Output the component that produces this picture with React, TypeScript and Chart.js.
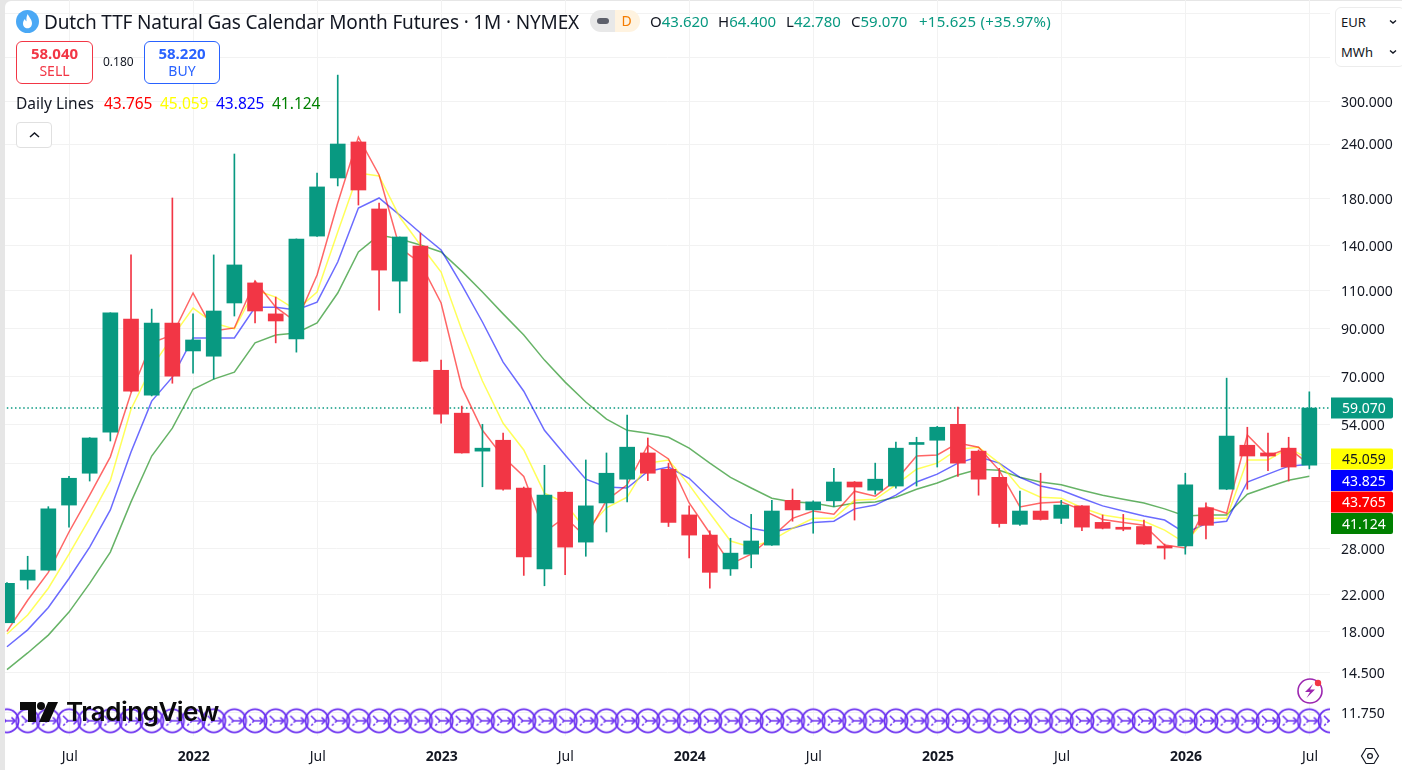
import React, { useEffect, useRef } from "react";
import { Chart, registerables } from "chart.js";

Chart.register(...registerables);

const months = [
  "Apr 2021","May 2021","Jun 2021","Jul 2021","Aug 2021","Sep 2021","Oct 2021","Nov 2021","Dec 2021",
  "Jan 2022","Feb 2022","Mar 2022","Apr 2022","May 2022","Jun 2022","Jul 2022","Aug 2022","Sep 2022","Oct 2022","Nov 2022","Dec 2022",
  "Jan 2023","Feb 2023","Mar 2023","Apr 2023","May 2023","Jun 2023","Jul 2023","Aug 2023","Sep 2023","Oct 2023","Nov 2023","Dec 2023",
  "Jan 2024","Feb 2024","Mar 2024","Apr 2024","May 2024","Jun 2024","Jul 2024","Aug 2024","Sep 2024","Oct 2024","Nov 2024","Dec 2024",
  "Jan 2025","Feb 2025","Mar 2025","Apr 2025","May 2025","Jun 2025","Jul 2025","Aug 2025","Sep 2025","Oct 2025","Nov 2025","Dec 2025",
  "Jan 2026","Feb 2026","Mar 2026","Apr 2026","May 2026","Jun 2026","Jul 2026","Aug 2026",
];

const opens = [18.9,23.7,25.0,35.3,41.8,52.0,94.8,63.3,92.8,80.0,77.8,103.2,114.8,97.4,85.3,147.2,200.4,242.6,170,115.9,139.6,72.2,57.5,47.0,49.8,38.65,25.15,37.8,29.0,35.7,40.5,46.55,42.7,33.5,30.1,25.15,27.2,28.54,36.2,34.4,36.1,39.9,38.2,39.05,48.7,49.8,54.2,47.0,40.9,31.87,34.2,32.9,35.15,32.2,31.2,31.5,28.24,28.4,34.8,38.4,48.5,46.55,47.75,43.62];
const highs = [23.4,26.9,35.0,41.1,50.5,98,133.2,99.9,180.2,97.4,133.2,227.6,115.9,106.5,145,205.8,346,243,175.5,146.5,149.6,76.2,59.7,54.2,51.7,38.85,43.6,37.9,44.85,46.55,56.9,50.4,44.1,35.15,30.8,29.6,33.6,36.2,38.44,36.1,42.9,40,44.1,49.3,50.6,53.6,59.4,47.3,42.9,38.0,41.8,36.2,35.2,33.5,33.6,32.6,28.7,41.8,35.7,69.25,53.36,51.7,50.6,64.4];
const lows = [18.9,22.6,25.0,31.4,40.1,49.6,64.4,63.0,67.4,71.1,68.9,96.3,92.8,83.5,79.5,147,192.1,173.6,99.4,97.9,75.6,54.5,46.5,38.9,38.2,24.3,23.0,24.4,26.9,30.6,35.9,40.2,31.5,26.65,22.7,24.3,25.3,28.5,32.4,30.4,35.0,32.6,37.4,38.6,39.05,43.2,41.1,37.2,31.4,31.7,32.6,32.0,30.8,31.1,30.8,28.65,26.5,27.2,29.5,38.3,38.4,42.4,40.1,42.78];
const closes = [23.3,25.0,34.6,40.7,50.4,97.9,64.6,92.8,70.0,84.8,98.9,126.3,98.9,93.8,144.9,191.1,240,188,122.9,146.5,75.8,57.2,46.55,47.75,38.4,26.8,37.2,28.24,35.15,41.8,48.0,41.8,32.2,30.1,24.7,27.35,29.17,34.2,34.4,35.9,39.9,38.85,40.5,47.75,48.85,53.36,44.1,40.5,32.0,34.2,32.7,35.3,31.4,31.2,31.05,28.7,28.1,39.3,31.7,50.9,45.8,45.8,43.2,59.07];

const redLine = [18.05,21.3,24.7,30.6,37.2,45.6,64.0,83.5,87.1,108.8,89,90.4,116,100.9,93.3,119.7,175.5,249,203.6,138.2,127.6,103.2,66.0,52.5,45.6,41.1,30.6,33.1,29.8,36.2,39.3,48.5,45.1,35.7,30.4,25.8,27.2,29.8,32.9,34.2,33.64,38.0,37.0,40.25,45.8,46.05,49.05,48.0,42.45,34.96,35.7,35.9,34.4,32.7,32.2,31.7,28.54,28.1,35.0,33.8,51.2,45.8,47.75,43.765];
const yellowLine = [17.8,19.7,22.7,27.2,32.9,40.25,58.7,73.4,86.2,100.4,92.8,89.9,110.6,106.5,99.4,109.4,150.4,205.8,202.5,162.9,140.4,121.6,89.4,68.2,54.5,47.3,37.6,35.7,30.9,34.8,36.8,44.1,44.85,39.3,33.8,29.17,28.24,29.3,31.2,32.9,32.9,36.2,36.4,39.3,42.7,44.1,47.5,48.0,44.1,38.65,36.8,36.6,34.8,33.5,32.9,32.4,30.9,28.85,32.9,32.9,44.85,44.85,47.75,45.059];
const blueLine = [16.64,18.2,20.5,23.9,28.24,34.4,46.8,61.3,69.6,85.7,85.7,85.7,100.9,100.9,99.4,103.7,128.3,170.9,180.2,164.6,149.6,136.7,113.6,93.3,75.4,64.6,52.5,46.05,40.5,38.85,38.65,42.2,43.2,40.7,36.6,33.1,31.2,30.6,31.2,32.2,32.4,34.6,35.3,37.2,39.9,41.6,44.1,45.6,44.1,40.9,39.05,38.2,36.6,35.15,34.2,33.3,32.6,30.4,32.0,32.4,39.9,41.6,43.4,43.825];
const greenLine = [14.74,16.1,17.7,20.0,23.3,27.5,35.9,45.8,53.1,65.3,68.9,71.5,83.5,87.1,88.0,92.8,108.8,135.3,148.0,145,140.4,135.3,122.2,109.4,97.4,87.1,76.2,67.8,61.0,55.7,52.5,51.7,50.6,47.75,44.1,40.9,38.65,36.6,35.9,35.7,35.0,35.7,35.9,36.8,38.4,39.7,41.4,42.7,42.45,40.9,39.9,39.3,38.2,37.2,36.4,35.7,34.6,33.3,33.5,33.5,37.4,38.85,40.25,41.124];

const yTicks = [480, 380, 300, 240, 180, 140, 110, 90, 70, 54, 44, 36, 28, 22, 18, 14.5, 11.75];
const yUnlabelled = [480, 380, 44, 36];
const xTickMonths = ["Jul 2021","Jan 2022","Jul 2022","Jan 2023","Jul 2023","Jan 2024","Jul 2024","Jan 2025","Jul 2025","Jan 2026","Jul 2026"];
const tagValues = [45.059, 43.825, 43.765, 41.124];
const markerLevel = 11.23;
const legendValues = ["43.765", "45.059", "43.825", "41.124"];
const ohlc = [["O","43.620"],["H","64.400"],["L","42.780"],["C","59.070"]];

const UP = "#089981";
const DOWN = "#F23645";
const FONT = '"Noto Sans", sans-serif';
const TEXT = "#131722";
const lineColors = ["rgba(255,0,0,0.6)","rgba(255,255,0,0.65)","rgba(0,0,255,0.58)","rgba(0,128,0,0.6)"];
const tagStyles = [["#ffff00","#131722"],["#0000ff","#ffffff"],["#ff0000","#ffffff"],["#008000","#ffffff"]];

function makeMarker(): HTMLCanvasElement {
  const c = document.createElement("canvas");
  c.width = 30; c.height = 30;
  const g = c.getContext("2d")!;
  g.strokeStyle = "#6a2ff0";
  g.lineWidth = 1.8;
  g.beginPath(); g.arc(15, 15, 11.6, 0, Math.PI * 2); g.stroke();
  g.lineWidth = 1.6;
  g.beginPath(); g.moveTo(9, 10); g.lineTo(14, 15); g.lineTo(23, 15); g.stroke();
  g.beginPath(); g.moveTo(19.5, 11.5); g.lineTo(23, 15); g.lineTo(19.5, 18.5); g.stroke();
  g.setLineDash([2.5, 1.8]);
  g.beginPath(); g.moveTo(14, 15); g.lineTo(8, 21); g.stroke();
  return c;
}

const tagsPlugin = {
  id: "priceTags",
  afterDraw(chart: any) {
    const { ctx, scales: { y }, chartArea } = chart;
    const x0 = chartArea.right + 1;
    const w = 62;
    const drawTag = (cy: number, h: number, bg: string, fg: string, text: string) => {
      ctx.save();
      ctx.fillStyle = bg;
      ctx.beginPath();
      ctx.roundRect(x0, cy - h / 2, w, h, [0, 2, 2, 0]);
      ctx.fill();
      ctx.fillStyle = fg;
      ctx.font = `14px ${FONT}`;
      ctx.textAlign = "left";
      ctx.textBaseline = "middle";
      ctx.fillText(text, x0 + 11, cy + 1);
      ctx.restore();
    };
    const last = closes[closes.length - 1];
    drawTag(y.getPixelForValue(last), 21, UP, "#ffffff", last.toFixed(3));
    const start = y.getPixelForValue(tagValues[0]);
    tagValues.forEach((v, i) => {
      drawTag(start + i * 21.5, 21, tagStyles[i][0], tagStyles[i][1], v.toFixed(3));
    });
  },
};

function Chevron({ x, y }: { x: number; y: number }) {
  return (
    <svg style={{ position: "absolute", left: x, top: y }} width="10" height="6" viewBox="0 0 10 6">
      <path d="M2 1.5 L5 4 L8 1.5" fill="none" stroke={TEXT} strokeWidth="1.4" />
    </svg>
  );
}

const abs = (left: number, top: number, extra: any = {}) => ({ position: "absolute", left, top, whiteSpace: "nowrap", fontFamily: FONT, ...extra });
const noPadding = (s: any) => { s.paddingTop = 0; s.paddingBottom = 0; s.paddingLeft = 0; s.paddingRight = 0; };

export default function App() {
  const ref = useRef<HTMLCanvasElement>(null);
  useEffect(() => {
    document.body.style.margin = "0";
    const marker = makeMarker();
    const last = closes[closes.length - 1];
    const candleX = closes.map((_, i) => i);
    const lines = [redLine, yellowLine, blueLine, greenLine].map((values, k) => ({
      type: "line",
      data: values.map((v, i) => ({ x: candleX[i], y: v })),
      borderColor: lineColors[k],
      borderWidth: 1.5,
      pointRadius: 0,
      tension: 0,
      order: 5,
    }));
    const chart = new Chart(ref.current!, {
      type: "bar",
      data: {
        datasets: [
          {
            type: "line",
            data: [{ x: -1, y: last }, { x: 65, y: last }],
            borderColor: UP,
            borderWidth: 1.5,
            borderDash: [1.5, 2.6],
            pointRadius: 0,
            order: 7,
          },
          {
            type: "line",
            data: months.map((_, i) => ({ x: i, y: markerLevel })),
            showLine: false,
            pointStyle: marker,
            pointRadius: 12,
            clip: 0,
            order: 6,
          },
          ...lines,
          {
            label: "wicks",
            data: closes.map((_, i) => ({ x: i, y: [lows[i], highs[i]] })),
            backgroundColor: closes.map((c, i) => (c >= opens[i] ? UP : DOWN)),
            barThickness: 1,
            grouped: false,
            order: 2,
          },
          {
            label: "bodies",
            data: closes.map((c, i) => ({ x: i, y: [opens[i], c] })),
            backgroundColor: closes.map((c, i) => (c >= opens[i] ? UP : DOWN)),
            barThickness: 15,
            minBarLength: 2,
            grouped: false,
            order: 1,
          },
        ] as any,
      },
      options: {
        animation: false,
        responsive: false,
        events: [],
        layout: { autoPadding: false, padding: { left: 5, top: 0, right: 0, bottom: 0 } },
        plugins: { legend: { display: false }, tooltip: { enabled: false } },
        scales: {
          x: {
            type: "linear",
            bounds: "data",
            offset: false,
            min: -0.096,
            max: 64,
            afterFit: (s: any) => { s.height = 34; noPadding(s); },
            afterBuildTicks: (s: any) => {
              s.ticks = xTickMonths.map((m) => ({ value: months.indexOf(m) }));
            },
            grid: { color: "#f2f2f2", drawTicks: false, offset: false },
            border: { display: false },
            ticks: {
              autoSkip: false,
              maxRotation: 0,
              padding: 13,
              labelOffset: 0.7,
              color: TEXT,
              font: (c: any) => {
                const isYear = months[c.tick?.value]?.startsWith("Jan");
                return { family: FONT, size: 14, weight: isYear ? "bold" : "normal" };
              },
              callback: (v: any) => {
                const [m, yr] = months[v].split(" ");
                return m === "Jan" ? yr : m;
              },
            },
          },
          y: {
            type: "logarithmic",
            position: "right",
            bounds: "data",
            min: 10.36,
            max: 515.5,
            afterFit: (s: any) => { s.width = 72; noPadding(s); },
            afterBuildTicks: (s: any) => {
              s.ticks = yTicks.map((v) => ({ value: v }));
            },
            grid: { color: "#f2f2f2", drawTicks: false },
            border: { display: false },
            ticks: {
              autoSkip: false,
              padding: 11,
              labelOffset: 1.5,
              color: TEXT,
              font: { family: FONT, size: 14 },
              callback: (v: any) => (yUnlabelled.includes(v) ? "" : Number(v).toFixed(3)),
            },
          },
        },
      } as any,
      plugins: [tagsPlugin],
    });
    return () => chart.destroy();
  }, []);

  return (
    <div style={{ position: "fixed", left: 0, top: 0, width: 1402, height: 770, background: "#e6e6e6", overflow: "hidden" }}>
      <div style={{ position: "absolute", left: 5, top: 1, right: 0, bottom: 0, background: "#fff", borderTopLeftRadius: 6 }} />
      <canvas ref={ref} width={1402} height={770} style={{ position: "absolute", left: 0, top: 0, display: "block" }} />

      {/* title row */}
      <svg style={{ position: "absolute", left: 16, top: 10 }} width="23" height="23" viewBox="0 0 23 23">
        <circle cx="11.5" cy="11.5" r="11.5" fill="#4aa8f5" />
        <path d="M11.8 4 C12.5 7 16 9 16 13.2 C16 16.2 14 18.3 11.5 18.3 C9 18.3 7 16.2 7 13.4 C7 11.5 8 10 9 9 C9.2 10.2 9.8 11 10.5 11.2 C10.2 8.6 10.6 6 11.8 4 Z" fill="#fff" />
      </svg>
      <div style={abs(44, 9, { fontSize: 19, lineHeight: "26px", color: TEXT, letterSpacing: "-0.15px" })}>
        Dutch TTF Natural Gas Calendar Month Futures · 1M · NYMEX
      </div>
      <div style={{ position: "absolute", left: 590, top: 10, width: 25, height: 22, background: "#e8e8e8", borderRadius: "11px 0 0 11px" }}>
        <div style={{ position: "absolute", left: 7, top: 8, width: 12, height: 6, borderRadius: 3, background: "#5d606b" }} />
      </div>
      <div style={abs(615, 10, { width: 25, height: 22, background: "#fff3e0", borderRadius: "0 11px 11px 0", color: "#f57c00", fontSize: 14, lineHeight: "21px", textAlign: "center", paddingRight: 2, boxSizing: "border-box" })}>D</div>
      {ohlc.map(([k, v], i) => (
        <div key={k} style={abs([650, 718, 786, 851][i], 11, { fontSize: 15, lineHeight: "20px" })}>
          <span style={{ color: TEXT }}>{k}</span><span style={{ color: UP }}>{v}</span>
        </div>
      ))}
      <div style={abs(919, 11, { fontSize: 15, lineHeight: "20px", color: UP, letterSpacing: "0.25px" })}>+15.625 (+35.97%)</div>

      {/* sell / buy */}
      <div style={{ position: "absolute", left: 16, top: 41, width: 77, height: 43, boxSizing: "border-box", border: `1px solid ${DOWN}`, borderRadius: 6, textAlign: "center", color: DOWN, fontFamily: FONT, background: "#fff" }}>
        <div style={{ fontSize: 15, fontWeight: 700, lineHeight: "18px", marginTop: 2 }}>58.040</div>
        <div style={{ fontSize: 14, lineHeight: "17px" }}>SELL</div>
      </div>
      <div style={abs(103, 54, { fontSize: 12, lineHeight: "16px", color: TEXT })}>0.180</div>
      <div style={{ position: "absolute", left: 144, top: 41, width: 76, height: 43, boxSizing: "border-box", border: "1px solid #2962ff", borderRadius: 6, textAlign: "center", color: "#2962ff", fontFamily: FONT, background: "#fff" }}>
        <div style={{ fontSize: 15, fontWeight: 700, lineHeight: "18px", marginTop: 2 }}>58.220</div>
        <div style={{ fontSize: 14, lineHeight: "17px" }}>BUY</div>
      </div>

      {/* indicator legend */}
      <div style={abs(16, 93, { fontSize: 15.5, lineHeight: "21px", color: TEXT })}>Daily Lines</div>
      {legendValues.map((v, i) => (
        <div key={v} style={abs([104, 160, 216, 272][i], 93, { fontSize: 15.5, lineHeight: "21px", color: ["#ff0000", "#ffff00", "#0000ff", "#008000"][i] })}>{v}</div>
      ))}
      <div style={{ position: "absolute", left: 16, top: 122, width: 36, height: 26, boxSizing: "border-box", border: "1px solid #e0e0e0", borderRadius: 4, background: "#fff" }}>
        <svg style={{ position: "absolute", left: 11, top: 8 }} width="13" height="8" viewBox="0 0 13 8">
          <path d="M2 6 L6.5 2 L11 6" fill="none" stroke={TEXT} strokeWidth="1.5" />
        </svg>
      </div>

      {/* currency / unit */}
      <div style={{ position: "absolute", left: 1335, top: 7, width: 70, height: 60, boxSizing: "border-box", border: "1px solid #ececec", borderRadius: 6, background: "#fff" }} />
      <div style={abs(1341, 13, { fontSize: 13, lineHeight: "18px", color: TEXT })}>EUR</div>
      <div style={abs(1341, 43, { fontSize: 13, lineHeight: "18px", color: TEXT })}>MWh</div>
      <Chevron x={1388} y={19} />
      <Chevron x={1388} y={49} />

      {/* watermark */}
      <svg style={{ position: "absolute", left: 20, top: 702 }} width="38" height="20" viewBox="0 0 38 20">
        <path d="M0 0 H16 V20 H8 V8 H0 Z" fill="#0b0b0b" />
        <circle cx="21" cy="4" r="4" fill="#0b0b0b" />
        <path d="M28 0 H38 L29 20 H19 Z" fill="#0b0b0b" />
      </svg>
      <div style={abs(66, 696, { fontFamily: "Inter, sans-serif", fontSize: 26, fontWeight: 600, lineHeight: "32px", color: "#0b0b0b", letterSpacing: "-0.5px" })}>TradingView</div>

      {/* lightning badge */}
      <svg style={{ position: "absolute", left: 1296, top: 676 }} width="30" height="30" viewBox="0 0 30 30">
        <circle cx="14" cy="15" r="12" fill="#fff" stroke="#9c27b0" strokeWidth="1.6" />
        <path d="M17 8 L9 16 H14 L10.5 22 L19 13.5 H14 Z" fill="#9c27b0" />
        <circle cx="22" cy="7" r="3.2" fill="#f23645" />
      </svg>

      {/* settings hexagon */}
      <svg style={{ position: "absolute", left: 1360, top: 746 }} width="20" height="20" viewBox="0 0 20 20">
        <path d="M6 2.5 H14 L18.5 10 L14 17.5 H6 L1.5 10 Z" fill="none" stroke={TEXT} strokeWidth="1.2" />
        <circle cx="10" cy="10" r="2.4" fill="none" stroke={TEXT} strokeWidth="1.2" />
      </svg>
    </div>
  );
}
